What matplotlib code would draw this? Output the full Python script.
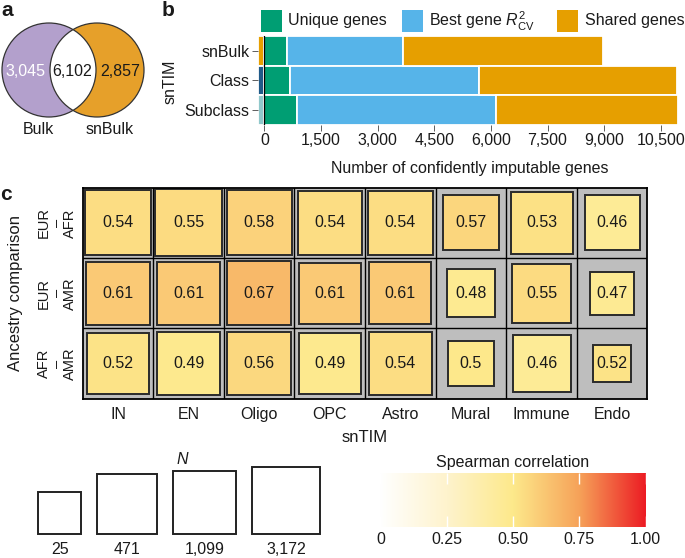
import numpy as np
import matplotlib
matplotlib.use('Agg')
import matplotlib.pyplot as plt
from matplotlib.patches import Circle, Rectangle
from matplotlib.colors import LinearSegmentedColormap
from matplotlib.transforms import blended_transform_factory

plt.rcParams['font.family'] = ['Liberation Sans', 'DejaVu Sans']
plt.rcParams['mathtext.fontset'] = 'custom'
plt.rcParams['mathtext.rm'] = 'Liberation Sans'
plt.rcParams['mathtext.it'] = 'Liberation Sans:italic'
plt.rcParams['text.color'] = '#1a1a1a'

# ---------------- data ----------------
venn_sets = ['Bulk', 'snBulk']
venn_counts = [3045, 6102, 2857]          # Bulk only, shared, snBulk only

bar_categories = ['snBulk', 'Class', 'Subclass']
unique_genes = [590, 680, 870]
best_gene_r2 = [3090, 5010, 5265]
shared_genes = [5279, 5230, 4832]
strip_colors = ['#e69f00', '#1f5a88', '#90c8cb']
strip_extent = 180
b_xticks = [0, 1500, 3000, 4500, 6000, 7500, 9000, 10500]

cell_types = ['IN', 'EN', 'Oligo', 'OPC', 'Astro', 'Mural', 'Immune', 'Endo']
comparisons = [('EUR', 'AFR'), ('EUR', 'AMR'), ('AFR', 'AMR')]
rho_eur_afr = [0.54, 0.55, 0.58, 0.54, 0.54, 0.57, 0.53, 0.46]
rho_eur_amr = [0.61, 0.61, 0.67, 0.61, 0.61, 0.48, 0.55, 0.47]
rho_afr_amr = [0.52, 0.49, 0.56, 0.49, 0.54, 0.50, 0.46, 0.52]
n_eur_afr = [1870, 2930, 1730, 1320, 1590, 200, 790, 210]
n_eur_amr = [1100, 1100, 1320, 660, 790, 58, 400, 28]
n_afr_amr = [790, 1100, 1220, 660, 1020, 39, 335, 11]

size_legend_n = [25, 471, 1099, 3172]
cbar_ticks = [0, 0.25, 0.5, 0.75, 1.0]
cbar_ticklabels = ['0', '0.25', '0.50', '0.75', '1.00']

# size scale (fraction of a cell side) anchored at the legend breaks
SIZE_FRAC = [0.606, 0.851, 0.898, 0.955]


def size_frac(n):
    lx = np.log10(size_legend_n)
    v = np.log10(n)
    if v < lx[0]:
        slope = (SIZE_FRAC[1] - SIZE_FRAC[0]) / (lx[1] - lx[0])
        return SIZE_FRAC[0] + (v - lx[0]) * slope
    return float(np.interp(v, lx, SIZE_FRAC))


cmap = LinearSegmentedColormap.from_list(
    'spearman', [(0, '#ffffff'), (0.25, '#fef3cd'), (0.5, '#fde98b'),
                 (0.75, '#f6a259'), (1.0, '#ec1c24')])

W, H = 685, 558
fig = plt.figure(figsize=(W / 100, H / 100), dpi=100)


def add_ax(l, t, r, b):
    return fig.add_axes([l / W, 1 - b / H, (r - l) / W, (b - t) / H])


def ftext(x, y, s, **kw):
    kw.setdefault('ha', 'center')
    kw.setdefault('va', 'center')
    return fig.text(x / W, 1 - y / H, s, **kw)


FS = 11.5
TXT = '#1a1a1a'

# panel labels
ftext(7, 10, 'a', fontsize=15, fontweight='bold')
ftext(168, 10, 'b', fontsize=15, fontweight='bold')
ftext(6, 195, 'c', fontsize=15, fontweight='bold')

# ---------------- panel a: Venn ----------------
ax_a = add_ax(0, 15, 150, 140)
ax_a.set_xlim(0, 150)
ax_a.set_ylim(140, 15)
ax_a.axis('off')
c_left = (49, 70)
c_right = (97, 70)
r = 47
ax_a.add_patch(Circle(c_left, r, fc='#b3a0cc', ec='none'))
right = Circle(c_right, r, fc='#e6a02a', ec='none')
ax_a.add_patch(right)
inter = Circle(c_left, r, fc='white', ec='none')
ax_a.add_patch(inter)
inter.set_clip_path(right)
ax_a.add_patch(Circle(c_left, r, fc='none', ec='#333333', lw=0.9))
ax_a.add_patch(Circle(c_right, r, fc='none', ec='#333333', lw=0.9))
ax_a.text(25, 72, f'{venn_counts[0]:,}', ha='center', va='center', fontsize=FS, color='white')
ax_a.text(72.5, 72, f'{venn_counts[1]:,}', ha='center', va='center', fontsize=FS, color=TXT)
ax_a.text(120, 72, f'{venn_counts[2]:,}', ha='center', va='center', fontsize=FS, color=TXT)
ax_a.text(38, 130, venn_sets[0], ha='center', va='center', fontsize=FS)
ax_a.text(110, 130, venn_sets[1], ha='center', va='center', fontsize=FS)

# ---------------- panel b: stacked bars ----------------
ax_b = add_ax(257.7, 36, 681.5, 124.8)
y = np.arange(len(bar_categories))
u = np.array(unique_genes)
bg = np.array(best_gene_r2)
sh = np.array(shared_genes)
kw = dict(height=1.0, edgecolor='white', linewidth=1.3)
ax_b.barh(y, [strip_extent] * 3, left=-strip_extent, color=strip_colors, **kw)
ax_b.barh(y, u, left=0, color='#009e73', **kw)
ax_b.barh(y, bg, left=u, color='#56b4e9', **kw)
ax_b.barh(y, sh, left=u + bg, color='#e69f00', **kw)
ax_b.axvline(0, color='black', lw=0.9)
ax_b.set_xlim(-strip_extent, 11050)
ax_b.set_ylim(2.5, -0.5)
for s in ax_b.spines.values():
    s.set_visible(False)
ax_b.set_xticks(b_xticks)
ax_b.set_xticklabels([f'{v:,}' for v in b_xticks])
ax_b.set_yticks(y)
ax_b.set_yticklabels(bar_categories)
ax_b.tick_params(axis='both', length=4, width=0.6, color='#444444', labelsize=FS,
                 labelcolor=TXT, pad=2)
ftext(170, 82, 'snTIM', rotation=90, fontsize=FS)
ftext(469.6, 168, 'Number of confidently imputable genes', fontsize=FS)

# legend of panel b
leg_items = [('#009e73', 260.7, 288, 'Unique genes'),
             ('#56b4e9', 402, 429, r'Best gene $R^{2}_{\mathrm{CV}}$'),
             ('#e69f00', 557, 585, 'Shared genes')]
for col, xp, xt, lab in leg_items:
    fig.add_artist(Rectangle((xp / W, 1 - 32 / H), 21 / W, 22 / H, transform=fig.transFigure,
                             fc=col, ec='none'))
    ftext(xt, 21, lab, ha='left', fontsize=FS)

# ---------------- panel c: heatmap ----------------
ax_c = add_ax(82.7, 187.7, 647.5, 398.7)
rho = np.array([rho_eur_afr, rho_eur_amr, rho_afr_amr])
nn = np.array([n_eur_afr, n_eur_amr, n_afr_amr])
ax_c.set_facecolor('#bebebe')
ax_c.set_xlim(0, len(cell_types))
ax_c.set_ylim(len(comparisons), 0)
for i in range(rho.shape[0]):
    for j in range(rho.shape[1]):
        s = size_frac(nn[i, j])
        ax_c.add_patch(Rectangle((j + 0.5 - s / 2, i + 0.5 - s / 2), s, s,
                                 fc=cmap(rho[i, j]), ec='#2a2a2a', lw=1.4, zorder=2))
        ax_c.text(j + 0.5, i + 0.5, f'{rho[i, j]:g}', ha='center', va='center',
                  fontsize=FS, color=TXT, zorder=3)
for k in range(1, len(cell_types)):
    ax_c.axvline(k, color='black', lw=1.0, zorder=1)
for k in range(1, len(comparisons)):
    ax_c.axhline(k, color='black', lw=1.0, zorder=1)
for s in ax_c.spines.values():
    s.set_linewidth(1.3)
    s.set_color('black')
ax_c.set_xticks(np.arange(len(cell_types)) + 0.5)
ax_c.set_xticklabels(cell_types)
ax_c.set_yticks([])
ax_c.tick_params(axis='x', length=0, labelsize=FS, labelcolor=TXT, pad=6)
tr = blended_transform_factory(ax_c.transAxes, ax_c.transData)
ax_w = 647.5 - 82.7
for i, (p1, p2) in enumerate(comparisons):
    ax_c.text((44 - 82.7) / ax_w, i + 0.5, p1, transform=tr, rotation=90, ha='center',
              va='center', fontsize=10.5)
    ax_c.text((57 - 82.7) / ax_w, i + 0.5, '–', transform=tr, rotation=90, ha='center',
              va='center', fontsize=10.5)
    ax_c.text((70 - 82.7) / ax_w, i + 0.5, p2, transform=tr, rotation=90, ha='center',
              va='center', fontsize=10.5)
ftext(16, 293, 'Ancestry comparison', rotation=90, fontsize=12)
ftext(365, 437, 'snTIM', fontsize=12)

# ---------------- size legend ----------------
CELL = 70.5
ax_s = add_ax(30, 458, 330, 558)
ax_s.set_xlim(0, 300 / CELL)
ax_s.set_ylim(0, 100 / CELL)
ax_s.axis('off')
x0 = (38.3 - 30) / CELL
gap = 16 / CELL
base = (558 - 534.3) / CELL
for n in size_legend_n:
    s = size_frac(n)
    ax_s.add_patch(Rectangle((x0, base), s, s, fc='white', ec='#222222', lw=1.4))
    ax_s.text(x0 + s / 2, (558 - 549) / CELL, f'{n:,}', ha='center', va='center', fontsize=FS)
    x0 += s + gap
ax_s.text((182 - 30) / CELL, (558 - 459) / CELL, 'N', style='italic', ha='center',
          va='center', fontsize=FS)

# ---------------- colorbar ----------------
ax_cb = add_ax(380.4, 473.3, 645.7, 526.7)
ax_cb.imshow(np.linspace(0, 1, 512)[None, :], cmap=cmap, extent=(0, 1, 0, 1),
             aspect='auto', vmin=0, vmax=1)
ax_cb.vlines(cbar_ticks, 0, 0.2, color='white', lw=1.0)
ax_cb.vlines(cbar_ticks, 0.8, 1.0, color='white', lw=1.0)
ax_cb.set_xlim(0, 1)
ax_cb.set_ylim(0, 1)
for s in ax_cb.spines.values():
    s.set_visible(False)
ax_cb.set_yticks([])
ax_cb.set_xticks(cbar_ticks)
ax_cb.set_xticklabels(cbar_ticklabels)
ax_cb.tick_params(axis='x', length=0, labelsize=FS, labelcolor=TXT, pad=4)
ftext(513, 463, 'Spearman correlation', fontsize=FS)

fig.savefig('out.png', dpi=100)
